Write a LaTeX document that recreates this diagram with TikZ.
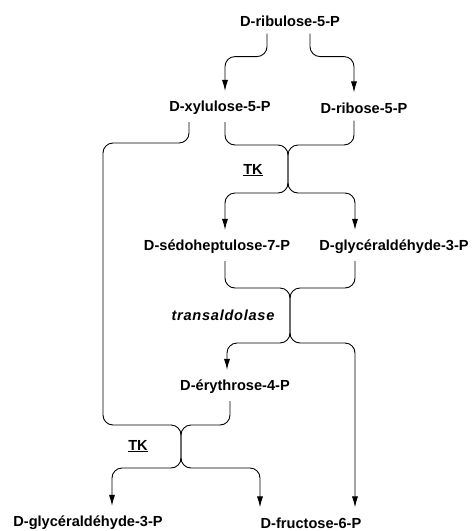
\documentclass[tikz,border=0pt]{standalone}
\usepackage{fontspec}
\setmainfont{Liberation Sans}
\usetikzlibrary{arrows.meta, positioning, calc}

\tikzset{
  metab/.style={font=\fontsize{14.6}{17}\selectfont\bfseries, inner xsep=1pt, inner ysep=7pt},
  enzyme/.style={font=\fontsize{14.6}{17}\selectfont\bfseries, inner sep=1pt},
  conn/.style={line width=0.9pt, rounded corners=10pt},
  react/.style={conn, -{Latex[length=11pt,width=6pt]}, shorten >=3pt}
}

\begin{document}
\begin{tikzpicture}[x=1pt, y=-1pt]
  \useasboundingbox (0,0) rectangle (475,531);

  % metabolites
  \node[metab] (rul) at (290,21) {D-ribulose-5-P};
  \node[metab] (xyl) at (220,108) {D-xylulose-5-P};
  \node[metab] (rib) at (364,108) {D-ribose-5-P};
  \node[metab] (sed) at (217,247) {D-sédoheptulose-7-P};
  \node[metab] (gap) at (394,247) {D-glycéraldéhyde-3-P};
  \node[metab] (ery) at (235,387) {D-érythrose-4-P};
  \node[metab] (gapb) at (88,523) {D-glycéraldéhyde-3-P};
  \node[metab] (fru) at (311,523) {D-fructose-6-P};

  % enzymes
  \node[enzyme] (tka) at (253,170) {\underline{TK}};
  \node[enzyme] (tal) at (223,315) {\itshape\addfontfeature{LetterSpace=5}transaldolase};
  \node[enzyme] (tkb) at (138,446) {\underline{TK}};

  % junction points
  \coordinate (tkatop) at (288,145);
  \coordinate (tkabot) at (288,193);
  \coordinate (taltop) at (290,288);
  \coordinate (talbot) at (290,343);
  \coordinate (tkbtop) at (181,425);
  \coordinate (tkbbot) at (181,468);
  \coordinate (bypass) at (103,143);

  % isomerase / epimerase
  \draw[react] ([xshift=-23pt]rul.south) -- ++(0,23) -| ([xshift=5pt]xyl.north);
  \draw[react] ([xshift=20pt]rul.south) -- ++(0,23) -| ([xshift=-10pt]rib.north);

  % first TK step
  \draw[react] ([xshift=5pt]xyl.south) |- (tkatop) -- (tkabot) -| ([xshift=8pt]sed.north);
  \draw[react] ([xshift=-10pt]rib.south) |- (tkatop) -- (tkabot) -| ([xshift=-39pt]gap.north);

  % transaldolase step
  \draw[react] ([xshift=8pt]sed.south) |- (taltop) -- (talbot) -| ([xshift=-8pt]ery.north);
  \draw[react] ([xshift=-39pt]gap.south) |- (taltop) -- (talbot) -| ([xshift=44pt]fru.north);

  % second TK step
  \draw[react] ([xshift=-31pt]xyl.south) |- (bypass) |- (tkbtop) -- (tkbbot) -| ([xshift=24pt]gapb.north);
  \draw[react] ([xshift=-5pt]ery.south) |- (tkbtop) -- (tkbbot) -| ([xshift=-51pt]fru.north);
\end{tikzpicture}
\end{document}
